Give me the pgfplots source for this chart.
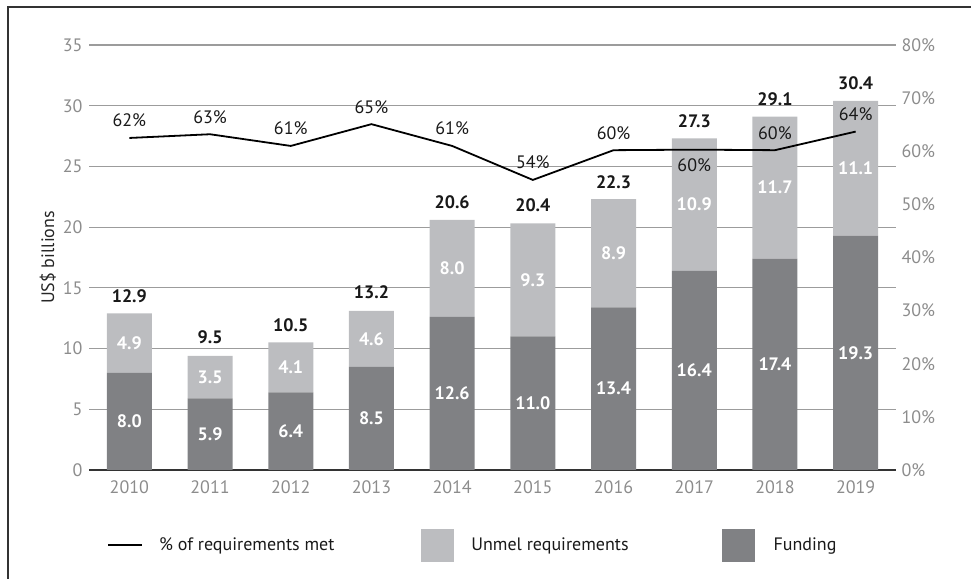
\documentclass[border=0pt]{standalone}
\usepackage{fontspec}
\setmainfont{PT Sans}
\usepackage{pgfplots}
\usepackage{pgfplotstable}
\pgfplotsset{compat=1.18}
\definecolor{fundgray}{HTML}{808184}
\definecolor{unmetgray}{HTML}{BCBDC0}
\definecolor{tickgray}{HTML}{8C8C8C}
\definecolor{gridgray}{HTML}{9C9C9C}
\definecolor{framegray}{HTML}{333333}

\newcommand{\lblfont}{\fontsize{18}{21}\selectfont}

% x, funding, unmet requirements, total label, % met, label offset (pt)
\pgfplotstableread{
x fund unmet total pct lab off
0 8.0 4.9 12.9 62.5 62 11
1 5.9 3.5 9.5  63.2 63 11
2 6.4 4.1 10.5 61.0 61 11
3 8.5 4.6 13.2 65.1 65 11
4 12.6 8.0 20.6 61.0 61 11
5 11.0 9.3 20.4 54.6 54 11
6 13.4 8.9 22.3 60.2 60 11
7 16.4 10.9 27.3 60.3 60 -22
8 17.4 11.7 29.1 60.2 60 11
9 19.3 11.1 30.4 63.7 64 11
}\data

\pgfplotsset{samebox/.style={
  at={(89pt,108pt)}, anchor=south west,
  width=807pt, height=425pt, scale only axis,
  xmin=-0.5, xmax=9.5}}

\begin{document}
\begin{tikzpicture}[x=1pt,y=1pt]
\useasboundingbox (0,0) rectangle (971,578);
\draw[framegray, line width=1.3pt] (8,-20) -- (8,571) -- (990,571);

% stacked bars, left axis
\begin{axis}[
  samebox,
  ybar stacked, bar width=45pt,
  ymin=0, ymax=35,
  xtick={0,...,9},
  xticklabels={2010,2011,2012,2013,2014,2015,2016,2017,2018,2019},
  ytick={0,5,...,35},
  axis x line*=bottom, axis y line*=left,
  y axis line style={draw=none},
  x axis line style={draw=framegray, line width=1.3pt},
  major tick length=0pt,
  ymajorgrids, grid style={gridgray, line width=1.1pt},
  tick label style={font=\lblfont, text=tickgray},
  /pgf/number format/assume math mode=true,
  yticklabel style={xshift=-3pt},
  xticklabel style={yshift=-7pt},
  ylabel={US\$ billions},
  ylabel style={font=\lblfont, text=black!85},
  point meta=explicit symbolic,
  nodes near coords,
  every node near coord/.append style={font=\lblfont\bfseries, text=white,
    anchor=center},
]
\addplot[fill=fundgray, draw=none] table[x=x, y=fund, meta=fund] {\data};
\addplot[fill=unmetgray, draw=none] table[x=x, y=unmet, meta=unmet] {\data};
\end{axis}

% totals above the bars
\begin{axis}[
  samebox, ymin=0, ymax=35, hide axis,
  point meta=explicit symbolic,
]
\addplot[draw=none, mark=none, nodes near coords,
  every node near coord/.append style={font=\lblfont\bfseries, text=black!90,
    anchor=base, yshift=11pt}]
  table[x=x, y=total, meta=total] {\data};
\end{axis}

% share of requirements met, right axis
\begin{axis}[
  samebox, ymin=0, ymax=80,
  axis x line=none, axis y line*=right,
  y axis line style={draw=none},
  major tick length=0pt,
  ytick={0,10,...,80},
  yticklabel={\pgfmathprintnumber{\tick}\%},
  yticklabel style={xshift=2pt},
  tick label style={font=\lblfont, text=tickgray},
  /pgf/number format/assume math mode=true,
  legend columns=3,
  legend style={at={(rel axis cs:0.0223,-0.1765)}, anchor=west, draw=none,
    fill=none, inner sep=0pt, font=\lblfont, text=black!90,
    nodes={inner sep=0pt, anchor=west},
    column sep=0pt},
]
\addplot[black, line width=1.8pt, mark=none,
  point meta=explicit symbolic,
  nodes near coords={\pgfplotspointmeta\%},
  visualization depends on={\thisrow{off} \as \laboff},
  every node near coord/.append style={font=\lblfont, text=black!90,
    anchor=base, yshift=\laboff*1pt},
  legend image code/.code={
    \draw[black, line width=2pt] (0pt,0pt) -- (34pt,0pt);
    \path[draw=none] (0pt,0pt) -- (51pt,0pt);}]
  table[x=x, y=pct, meta=lab] {\data};
\addlegendentry{\makebox[262pt][l]{\% of requirements met}}
\addlegendimage{legend image code/.code={
  \fill[unmetgray] (0pt,-16pt) rectangle (32pt,16pt);
  \path[draw=none] (0pt,0pt) -- (50pt,0pt);}}
\addlegendentry{\makebox[251pt][l]{Unmel requirements}}
\addlegendimage{legend image code/.code={
  \fill[fundgray] (0pt,-16pt) rectangle (32pt,16pt);
  \path[draw=none] (0pt,0pt) -- (51pt,0pt);}}
\addlegendentry{Funding}
\end{axis}
\end{tikzpicture}
\end{document}
